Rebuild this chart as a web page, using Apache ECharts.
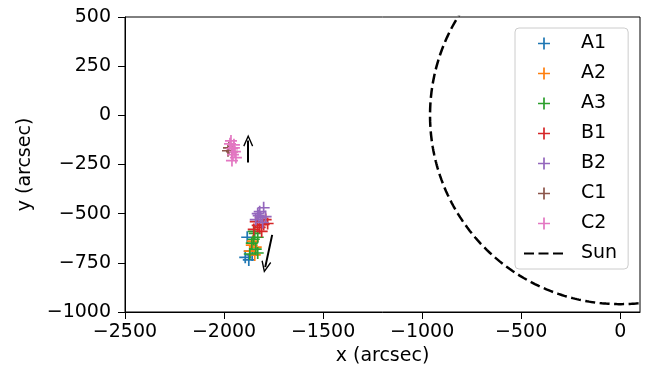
<!DOCTYPE html>
<html><head><meta charset="utf-8">
<script src="https://cdn.jsdelivr.net/npm/echarts@6/dist/echarts.min.js"></script>
<style>html,body{margin:0;padding:0;background:#fff}#c{width:651px;height:376px}</style>
</head><body><div id="c"></div>
<script>
const seriesNames = ['A1','A2','A3','B1','B2','C1','C2'];
const colors = ['#1f77b4','#ff7f0e','#2ca02c','#d62728','#9467bd','#8c564b','#e377c2'];
const A1 = [[-1893,-722],[-1875,-735],[-1858,-710],[-1883,-620],[-1870,-690]];
const A2 = [[-1855,-640],[-1840,-670],[-1870,-690],[-1845,-710],[-1860,-660]];
const A3 = [[-1850,-590],[-1830,-620],[-1860,-650],[-1840,-680],[-1870,-705],[-1850,-630],[-1830,-700],[-1845,-600]];
const B1 = [[-1840,-540],[-1800,-555],[-1820,-570],[-1780,-550],[-1850,-580],[-1810,-590],[-1790,-530],[-1830,-560]];
const B2 = [[-1800,-470],[-1830,-500],[-1815,-520],[-1840,-530],[-1805,-545],[-1825,-510],[-1790,-515],[-1820,-490]];
const C1 = [[-1975,-165],[-1960,-185],[-1980,-180]];
const C2 = [[-1965,-130],[-1950,-150],[-1960,-170],[-1945,-185],[-1955,-200],[-1940,-215],[-1950,-165],[-1960,-230],[-1970,-145]];
const allData = [A1,A2,A3,B1,B2,C1,C2];
const SUN_RADIUS = 960;
const arrows = [[[-1878,-240],[-1878,-128]],[[-1757,-608],[-1792,-772]]];
const xTicks = {min:-2500, max:100, interval:500};
const yTicks = {min:-1000, max:500, interval:250};

// Sun limb, limited to the visible x range
const sunPts = [];
const t0 = Math.acos(xTicks.max / SUN_RADIUS);
const N = 300;
for (let i = 0; i <= N; i++) {
  const t = t0 + (2 * Math.PI - 2 * t0) * i / N;
  sunPts.push([SUN_RADIUS*Math.cos(t), SUN_RADIUS*Math.sin(t)]);
}
const plus = 'path://M5.15,0H6.85V5.15H12V6.85H6.85V12H5.15V6.85H0V5.15H5.15Z';
const head = 'path://M0,10L5,0L10,10L8.8,10.7L5,3L1.2,10.7Z';
const font = 'DejaVu Sans';
const FS = 19;
const fmt = v => (v % 250 === 0) ? String(v).replace('-', '\u2212') : '';

const series = seriesNames.map((n,i) => ({
  name: n, type: 'scatter', data: allData[i], symbol: plus, symbolSize: 12,
  itemStyle: {color: colors[i], opacity: 1}, z: 2 + i
}));
series.push({
  name: 'Sun', type: 'line', data: sunPts, showSymbol: false, symbol: 'none',
  itemStyle: {color: '#000'},
  lineStyle: {color: '#000', width: 2.5, type: [10, 4.5]}, clip: true, z: 1
});
series.push({
  name: 'arrows', type: 'scatter', data: [], silent: true,
  markLine: {
    silent: true, symbol: ['none', head], symbolSize: [10, 12],
    label: {show: false},
    lineStyle: {color: '#000', width: 2, type: 'solid'},
    data: arrows.map(a => [{coord: a[0]}, {coord: a[1]}])
  }
});

const axisCommon = {
  nameLocation: 'middle',
  nameTextStyle: {fontSize: FS, color: '#000', fontFamily: font},
  axisLine: {show: true, onZero: false, lineStyle: {color: '#000', width: 1}},
  axisTick: {show: true, length: 7, lineStyle: {color: '#000', width: 1}},
  splitLine: {show: false}
};

const chart = echarts.init(document.getElementById('c'));
chart.setOption({
  animation: false,
  textStyle: {fontFamily: font},
  grid: {left: 125, right: 11, top: 17, bottom: 64, show: true, borderColor: '#000', borderWidth: 1},
  xAxis: Object.assign({}, axisCommon, {
    type: 'value', min: xTicks.min, max: xTicks.max, interval: xTicks.interval,
    name: 'x (arcsec)', nameGap: 32,
    axisLabel: {fontSize: FS, color: '#000', fontFamily: font, margin: 11, formatter: fmt, showMaxLabel: false}
  }),
  yAxis: Object.assign({}, axisCommon, {
    type: 'value', min: yTicks.min, max: yTicks.max, interval: yTicks.interval,
    name: 'y (arcsec)', nameGap: 90,
    axisLabel: {fontSize: FS, color: '#000', fontFamily: font, margin: 14, formatter: fmt}
  }),
  legend: {
    data: seriesNames.concat([{name: 'Sun', itemStyle: {opacity: 0}}]), orient: 'vertical',
    left: 515, top: 28,
    padding: [6, 11, 6, 8], itemGap: 11, itemWidth: 40, itemHeight: 12,
    borderColor: '#ccc', borderWidth: 1, borderRadius: 4,
    textStyle: {fontSize: FS, lineHeight: 19, color: '#000', fontFamily: font, padding: [0, 0, 0, 12]},
    selectedMode: false
  },
  series: series
});
</script></body></html>
